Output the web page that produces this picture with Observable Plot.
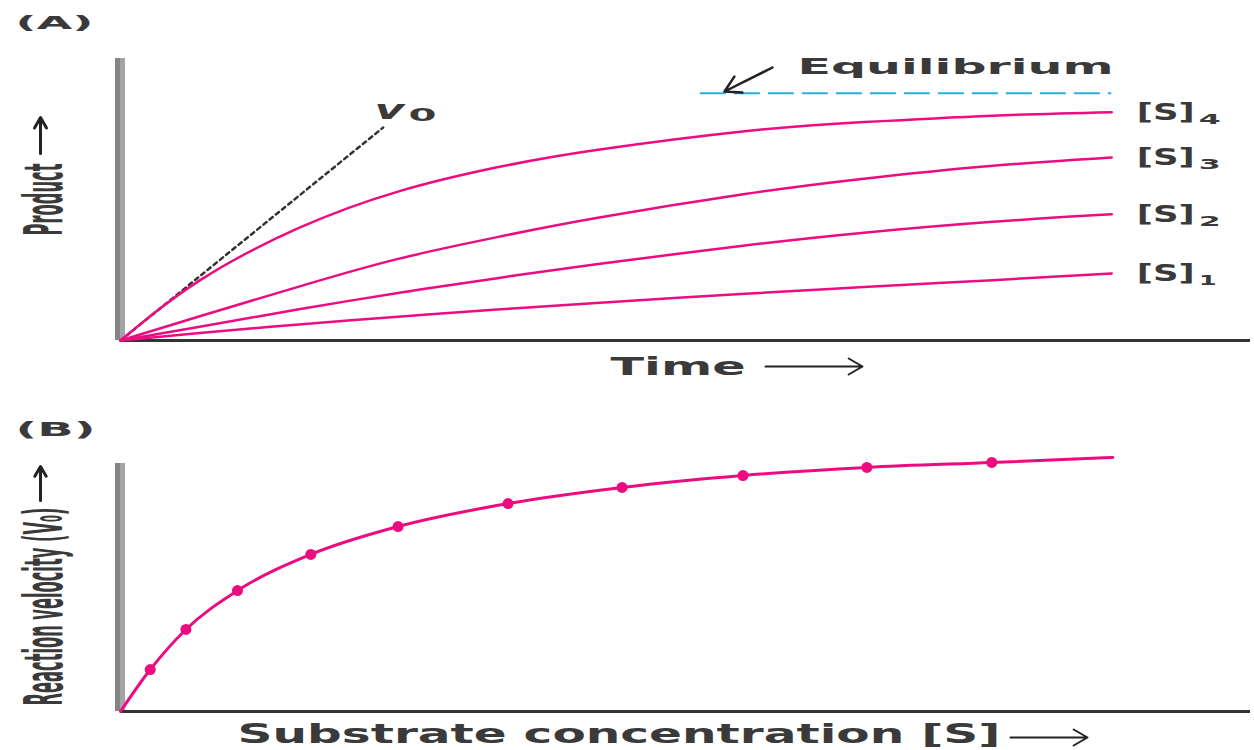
<!DOCTYPE html>
<html><head><meta charset="utf-8">
<script src="https://cdn.jsdelivr.net/npm/d3@7"></script>
<script src="https://cdn.jsdelivr.net/npm/@observablehq/plot@0.6"></script>
<style>body{margin:0;background:#fff;} svg{display:block}</style>
</head><body><div id="chart"></div>
<script>
// ---------- Panel A data ----------
const time = [0, 8, 18, 28, 38, 48, 63, 75, 88, 100];
const productS1 = [0, 3.0, 6.5, 9.6, 12.5, 15.2, 18.9, 21.6, 24.4, 27.1];
const productS2 = [0, 5.6, 12.6, 19.2, 25.2, 30.8, 38.4, 43.6, 48.0, 51.0];
const productS3 = [0, 9.8, 21.8, 33.0, 41.8, 49.5, 59.2, 65.4, 70.6, 74.0];
const productS4 = [0, 24.3, 45.5, 60.2, 70.0, 77.0, 84.6, 88.3, 90.9, 92.3];
const seriesSubscripts = ["1", "2", "3", "4"];
const equilibriumLevel = 100;
const equilibriumSpan = [58.5, 100];
const v0Time = [0, 26.5];
const v0Product = [0, 86.1];

// ---------- Panel B data ----------
const substrate = [0, 3.0, 6.6, 11.8, 19.2, 28.0, 39.1, 50.6, 62.8, 75.3, 87.9, 100.1];
const velocity = [0, 20.3, 39.7, 58.5, 76.0, 89.5, 100.6, 108.4, 114.2, 118.1, 120.5, 122.9];
const measured = [false, true, true, true, true, true, true, true, true, true, true, false];

const PINK = "#ec0c80";
const INK = "#3a3a3a";
const FONT = "DejaVu Sans";

// annotation helpers (pixel -> data units), panel A: x 120..1250 = 0..114, y 340..58 = 0..114
const xA = px => (px - 120) / (1130 / 114);
const yA = py => (340 - py) / (282 / 114);
const yB = py => (711 - py) / (248 / 120);

const products = [productS1, productS2, productS3, productS4];
const rowsA = products.flatMap((arr, i) => time.map((t, j) => ({s: seriesSubscripts[i], t, p: arr[j]})));
const endsA = rowsA.filter(d => d.t === time[time.length - 1]);
const v0Rows = v0Time.map((t, i) => ({t, p: v0Product[i]}));
const rowsB = substrate.map((s, i) => ({s, v: velocity[i], m: measured[i]}));

const txt = (label, o) => Plot.text([label], {text: d => d, fill: INK, fontWeight: "bold", fontFamily: FONT, lineAnchor: "middle", ...o});

const stretch = {
  "(A)": 78, "(B)": 80, "Equilibrium": 316, "[S]": 58, "1": 18, "2": 22, "3": 22, "4": 22,
  "v": 30, "0": 28, "Time": 135, "Product": 72, "Reaction velocity (V₀)": 198,
  "Substrate concentration [S]": 763
};
function applyStretch(svg) {
  d3.select(svg).selectAll("text").each(function() {
    const L = stretch[this.textContent];
    if (L) { this.setAttribute("textLength", L); this.setAttribute("lengthAdjust", "spacingAndGlyphs"); }
  });
  return svg;
}

const plotA = Plot.plot({
  width: 1254, height: 395,
  marginLeft: 120, marginRight: 4, marginTop: 58, marginBottom: 55,
  x: {domain: [0, 114], axis: null},
  y: {domain: [0, 114], axis: null},
  style: {background: "#fff", overflow: "visible", fontFamily: FONT},
  marks: [
    Plot.ruleX([0], {y1: () => 0, y2: () => 114, stroke: "#848484", strokeWidth: 5, dx: -3}),
    Plot.ruleX([0], {y1: () => 0, y2: () => 114, stroke: "#a4a4a4", strokeWidth: 5, dx: 2}),
    Plot.ruleY([0], {x1: () => 0, x2: () => 114, stroke: "#333", strokeWidth: 3}),
    Plot.ruleY([equilibriumLevel], {x1: () => equilibriumSpan[0], x2: () => equilibriumSpan[1], stroke: "#2aaede", strokeWidth: 2, strokeDasharray: "26,8"}),
    Plot.line(v0Rows, {x: "t", y: "p", stroke: "#333", strokeWidth: 2.5, strokeDasharray: "4,4"}),
    Plot.line(rowsA, {x: "t", y: "p", z: "s", stroke: PINK, strokeWidth: 2.5, curve: "natural"}),
    Plot.text(endsA, {x: "t", y: "p", text: () => "[S]", dx: 25, textAnchor: "start", lineAnchor: "middle", fontSize: 23, fontWeight: "bold", fontFamily: FONT, fill: INK}),
    Plot.text(endsA, {x: "t", y: "p", text: "s", dx: 87, dy: 7, textAnchor: "start", lineAnchor: "middle", fontSize: 14, fontWeight: "bold", fontFamily: FONT, fill: INK}),
    Plot.arrow([0], {x1: () => xA(772), y1: () => yA(67), x2: () => xA(724), y2: () => yA(91), stroke: "#222", strokeWidth: 2.5, headLength: 12}),
    Plot.arrow([0], {x1: () => xA(40), y1: () => yA(153), x2: () => xA(40), y2: () => yA(117), stroke: "#222", strokeWidth: 3, headLength: 12}),
    Plot.arrow([0], {x1: () => xA(765), y1: () => yA(366), x2: () => xA(862), y2: () => yA(366), stroke: "#222", strokeWidth: 2, headLength: 12}),
    txt("(A)", {frameAnchor: "top-left", dx: -105, dy: -35, textAnchor: "start", fontSize: 18}),
    txt("Equilibrium", {frameAnchor: "top-left", dx: 677, dy: 8, textAnchor: "start", fontSize: 22}),
    txt("v", {frameAnchor: "top-left", dx: 254, dy: 52, textAnchor: "start", fontSize: 26, fontStyle: "italic"}),
    txt("0", {frameAnchor: "top-left", dx: 288, dy: 57, textAnchor: "start", fontSize: 18}),
    txt("Time", {frameAnchor: "bottom-left", dx: 490, dy: 26, textAnchor: "start", fontSize: 25}),
    txt("Product", {frameAnchor: "top-left", dx: -76, dy: 141, textAnchor: "middle", rotate: -90, fontSize: 54})
  ]
});

const plotB = Plot.plot({
  width: 1254, height: 355,
  marginLeft: 120, marginRight: 4, marginTop: 68, marginBottom: 39,
  x: {domain: [0, 114], axis: null},
  y: {domain: [0, 120], axis: null},
  style: {background: "#fff", overflow: "visible", fontFamily: FONT},
  marks: [
    Plot.ruleX([0], {y1: () => 0, y2: () => 120, stroke: "#848484", strokeWidth: 5, dx: -3}),
    Plot.ruleX([0], {y1: () => 0, y2: () => 120, stroke: "#a4a4a4", strokeWidth: 5, dx: 2}),
    Plot.ruleY([0], {x1: () => 0, x2: () => 114, stroke: "#333", strokeWidth: 3}),
    Plot.line(rowsB, {x: "s", y: "v", stroke: PINK, strokeWidth: 3, curve: "monotone-x"}),
    Plot.dot(rowsB.filter(d => d.m), {x: "s", y: "v", r: 5.5, fill: PINK}),
    Plot.arrow([0], {x1: () => xA(40), y1: () => yB(500), x2: () => xA(40), y2: () => yB(466), stroke: "#222", strokeWidth: 3, headLength: 12}),
    Plot.arrow([0], {x1: () => xA(1010), y1: () => yB(737), x2: () => xA(1087), y2: () => yB(737), stroke: "#222", strokeWidth: 2, headLength: 12}),
    txt("(B)", {frameAnchor: "top-left", dx: -105, dy: -34, textAnchor: "start", fontSize: 19}),
    txt("Reaction velocity (V₀)", {frameAnchor: "top-left", dx: -76, dy: 143, textAnchor: "middle", rotate: -90, fontSize: 54}),
    txt("Substrate concentration [S]", {frameAnchor: "bottom-left", dx: 117, dy: 23, textAnchor: "start", fontSize: 26})
  ]
});

const root = document.getElementById("chart");
root.appendChild(applyStretch(plotA));
root.appendChild(applyStretch(plotB));
</script>
</body></html>
